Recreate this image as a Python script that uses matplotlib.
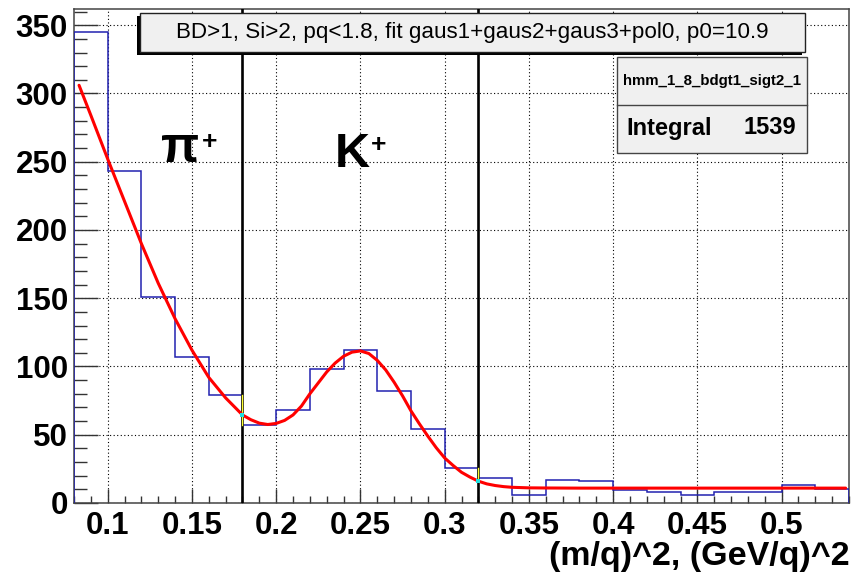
import matplotlib
matplotlib.use('Agg')
import matplotlib.pyplot as plt
import numpy as np
from matplotlib.patches import Rectangle
from matplotlib.ticker import MultipleLocator

# histogram: 23 bins of 0.02 from 0.08 to 0.54
bin_edges = [0.08 + 0.02 * i for i in range(24)]
counts = [345, 243, 151, 107, 79, 57, 68, 98, 112, 82, 54, 26, 18,
          6, 17, 16, 9.5, 8, 5.5, 8, 8, 13, 10]

# fitted curve gaus1+gaus2+gaus3+pol0, sampled points
fit_x = [0.083, 0.09, 0.10, 0.11, 0.12, 0.13, 0.14, 0.15, 0.16, 0.17, 0.18,
         0.185, 0.19, 0.195, 0.20, 0.205, 0.21, 0.215, 0.22, 0.225, 0.23,
         0.235, 0.24, 0.245, 0.25, 0.255, 0.26, 0.265, 0.27, 0.275, 0.28,
         0.285, 0.29, 0.295, 0.30, 0.305, 0.31, 0.315, 0.32, 0.325, 0.33,
         0.335, 0.34, 0.35, 0.36, 0.38, 0.40, 0.45, 0.50, 0.538]
fit_y = [306, 284, 252, 221, 190, 161, 135, 112, 92, 77, 64.5,
         61, 58.5, 57.5, 58.3, 60.5, 64.5, 71, 80, 88, 96,
         102.5, 107.5, 110.5, 111.4, 109.5, 104.5, 97.5, 88.5, 78.5, 67.5,
         58, 49, 40.5, 33, 27.5, 22.5, 19, 16, 14, 12.8,
         12, 11.5, 11.1, 11.0, 10.9, 10.9, 10.9, 10.9, 10.9]

cuts = [0.18, 0.32]          # pi / K selection window
title = 'BD>1, Si>2, pq<1.8, fit gaus1+gaus2+gaus3+pol0, p0=10.9'
hist_name = 'hmm_1_8_bdgt1_sigt2_1'
integral = 1539
x_title = '(m/q)^2, (GeV/q)^2'

plt.rcParams['font.family'] = ['Liberation Sans', 'DejaVu Sans']

W, H = 855, 575
fig = plt.figure(figsize=(W / 100, H / 100), dpi=100)
fig.patch.set_facecolor('white')


def px(x, y):
    # pixel position -> figure fraction
    return x / W, 1 - y / H


left, top, right, bottom = 74, 8.5, 849, 503
ax = fig.add_axes([left / W, 1 - bottom / H, (right - left) / W, (bottom - top) / H])
ax.set_xlim(bin_edges[0], bin_edges[-1])
ax.set_ylim(0, 1.05 * max(counts))

# dotted grid on the major ticks
ax.xaxis.set_major_locator(MultipleLocator(0.05))
ax.xaxis.set_minor_locator(MultipleLocator(0.01))
ax.yaxis.set_major_locator(MultipleLocator(50))
ax.yaxis.set_minor_locator(MultipleLocator(10))
ax.grid(True, which='major', color='black', linestyle=(0, (1, 2.2)), linewidth=0.8)
ax.set_axisbelow(True)

ax.tick_params(axis='both', which='both', direction='in', top=False, right=False,
               color='#333333', width=1.0)
ax.tick_params(axis='y', which='major', length=17, pad=4.5)
ax.tick_params(axis='y', which='minor', length=9)
ax.tick_params(axis='x', which='major', length=10, pad=6)
ax.tick_params(axis='x', which='minor', length=5)
for lab in ax.get_xticklabels() + ax.get_yticklabels():
    lab.set_fontweight('bold')
    lab.set_fontsize(22.5)
ax.xaxis.set_major_formatter(matplotlib.ticker.FuncFormatter(lambda v, p: ('%g' % round(v, 3))))
for sp in ax.spines.values():
    sp.set_color('#444444')
    sp.set_linewidth(1.1)

ax.stairs(counts, bin_edges, color='#2222b0', linewidth=1.1, zorder=3)

for c in cuts:
    ax.axvline(c, color='black', linewidth=1.9, zorder=4)
    i = bin_edges.index(min(bin_edges, key=lambda e: abs(e - c)))
    ax.plot([c, c], [counts[i - 1], counts[i]], color='#ffff30', linewidth=1.0, zorder=5)

ax.plot(fit_x, fit_y, color='red', linewidth=2.2, zorder=6, solid_capstyle='round')
for c in cuts:
    ax.plot([c], [np.interp(c, fit_x, fit_y)], marker='s', markersize=2.2,
            color='#20e0e0', markeredgewidth=0, zorder=7)

# particle labels
fig.text(*px(180, 162), 'π', fontsize=36, fontweight='bold', ha='center', va='baseline')
fig.text(*px(210, 142), '+', fontsize=19, fontweight='bold', ha='center', va='center')
fig.text(*px(352, 167), 'K', fontsize=35, fontweight='bold', ha='center', va='baseline')
fig.text(*px(379, 145), '+', fontsize=19, fontweight='bold', ha='center', va='center')

# title pave with shadow
tr = fig.transFigure
x0, y0 = px(137, 55)
fig.patches.append(Rectangle((x0, y0), 665 / W, 39 / H, transform=tr,
                             facecolor='black', edgecolor='none', zorder=8))
x0, y0 = px(140, 52)
fig.patches.append(Rectangle((x0, y0), 665 / W, 39 / H, transform=tr,
                             facecolor='#f0f0f0', edgecolor='#222222', linewidth=1.0, zorder=9))
fig.text(*px(472, 32.5), title, fontsize=16.1, ha='center', va='center', zorder=10)

# stats box
x0, y0 = px(617, 153)
fig.patches.append(Rectangle((x0, y0), 190 / W, 96 / H, transform=tr,
                             facecolor='#f0f0f0', edgecolor='#444444', linewidth=1.0, zorder=9))
fig.lines.append(plt.Line2D([617 / W, 807 / W], [1 - 105 / H, 1 - 105 / H], transform=tr,
                            color='#444444', linewidth=1.0, zorder=10))
fig.text(*px(712, 81.5), hist_name, fontsize=10.8, fontweight='bold',
         ha='center', va='center', zorder=10)
fig.text(*px(626, 128), 'Integral', fontsize=17, fontweight='bold',
         ha='left', va='center', zorder=10)
fig.text(*px(796, 128), str(integral), fontsize=17, fontweight='bold',
         ha='right', va='center', zorder=10)

fig.text(*px(850, 557), x_title, fontsize=24.5, fontweight='bold', ha='right', va='center')

fig.savefig('out.png', dpi=100)
